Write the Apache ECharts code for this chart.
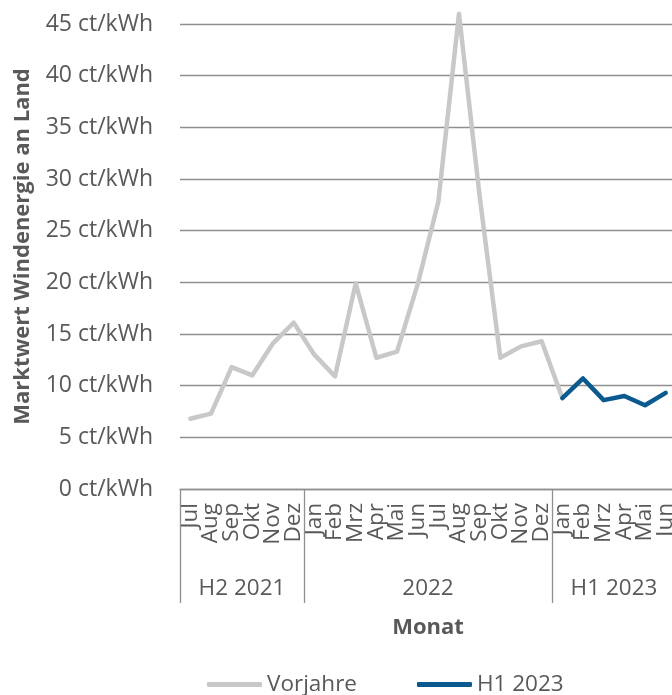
<!DOCTYPE html>
<html>
<head>
    <meta http-equiv="Content-Type" content="text/html; charset=utf-8" />
    <title>Marktwert Windenergie an Land</title>
    <script src="https://cdn.jsdelivr.net/npm/echarts@6/dist/echarts.min.js"></script>
    <style>
        html, body { margin: 0; padding: 0; background: #fff; }
    </style>
</head>
<body>
    <div id="main" style="width: 672px;height:695px;"></div>
    <script type="text/javascript">

    // Monate (Jul 2021 .. Jun 2023)
    var months = ['Jul', 'Aug', 'Sep', 'Okt', 'Nov', 'Dez',
        'Jan', 'Feb', 'Mrz', 'Apr', 'Mai', 'Jun', 'Jul', 'Aug', 'Sep', 'Okt', 'Nov', 'Dez',
        'Jan', 'Feb', 'Mrz', 'Apr', 'Mai', 'Jun'];
    // Gruppen: Name + Anzahl Monate
    var groupNames = ['H2 2021', '2022', 'H1 2023'];
    var groupSizes = [6, 12, 6];

    // ct/kWh
    var vorjahre = [6.8, 7.3, 11.8, 11.0, 14.1, 16.1,
        13.0, 10.9, 19.9, 12.7, 13.3, 19.8, 27.8, 46.0, 28.3, 12.7, 13.8, 14.3,
        8.8, null, null, null, null, null];
    var h1_2023 = [null, null, null, null, null, null,
        null, null, null, null, null, null, null, null, null, null, null, null,
        8.8, 10.7, 8.6, 9.0, 8.1, 9.3];

    var yTicks = { min: 0, max: 45, step: 5 };

    var textColor = '#595959';
    var lineGrey = '#8f8f8f';
    var font = 'Open Sans';

    // Grenzen der Gruppen (Index der ersten Kategorie jeder Gruppe)
    var bounds = [0];
    var mids = [];
    var acc = 0;
    groupSizes.forEach(function (n) {
        mids.push(acc + n / 2);
        acc += n;
        bounds.push(acc);
    });

    var myChart = echarts.init(document.getElementById('main'));

    var option = {
        animation: false,
        textStyle: { fontFamily: font },
        grid: { left: 180, right: -4, top: 24, bottom: 206, containLabel: false, outerBoundsMode: 'none' },
        legend: {
            left: 202,
            top: 668,
            icon: 'roundRect',
            itemWidth: 55,
            itemHeight: 5,
            itemGap: 60,
            textStyle: { color: textColor, fontSize: 22.5, fontFamily: font },
            data: ['Vorjahre', 'H1 2023']
        },
        xAxis: [
            {
                type: 'category',
                data: months,
                boundaryGap: true,
                name: 'Monat',
                nameLocation: 'middle',
                nameGap: 128,
                nameTextStyle: { color: textColor, fontSize: 22, fontWeight: 'bold', fontFamily: font },
                axisLine: { lineStyle: { color: lineGrey, width: 1.3 } },
                axisTick: {
                    show: true,
                    length: 114,
                    interval: function (index) {
                        return bounds.indexOf(index) >= 0;
                    },
                    lineStyle: { color: lineGrey, width: 1.3 }
                },
                axisLabel: {
                    interval: 0,
                    rotate: 90,
                    margin: 14,
                    color: textColor,
                    fontSize: 22.5,
                    fontFamily: font
                }
            },
            {
                type: 'value',
                min: 0,
                max: bounds[bounds.length - 1],
                interval: 3,
                position: 'bottom',
                axisLine: { show: false },
                axisTick: { show: false },
                splitLine: { show: false },
                axisLabel: {
                    margin: 88,
                    color: textColor,
                    fontSize: 22.5,
                    fontFamily: font,
                    showMinLabel: true,
                    showMaxLabel: true,
                    formatter: function (v) {
                        var i = mids.indexOf(v);
                        return i >= 0 ? groupNames[i] : '';
                    }
                }
            }
        ],
        yAxis: {
            type: 'value',
            min: yTicks.min,
            max: yTicks.max,
            interval: yTicks.step,
            name: 'Marktwert Windenergie an Land',
            nameLocation: 'middle',
            nameGap: 146,
            nameTextStyle: { color: textColor, fontSize: 22, fontWeight: 'bold', fontFamily: font, padding: [0, 0, 0, 20] },
            axisLine: { show: false },
            axisTick: { show: false },
            splitLine: { lineStyle: { color: lineGrey, width: 1.3 } },
            axisLabel: {
                margin: 27,
                color: textColor,
                fontSize: 23,
                fontFamily: font,
                formatter: '{value} ct/kWh'
            }
        },
        series: [
            {
                name: 'Vorjahre',
                type: 'line',
                data: vorjahre,
                symbol: 'none',
                clip: false,
                lineStyle: { color: '#c8c8c8', width: 4.5, cap: 'round', join: 'round' },
                itemStyle: { color: '#c8c8c8' }
            },
            {
                name: 'H1 2023',
                type: 'line',
                data: h1_2023,
                symbol: 'none',
                clip: false,
                lineStyle: { color: '#0b5a8f', width: 4.5, cap: 'round', join: 'round' },
                itemStyle: { color: '#0b5a8f' }
            }
        ]
    };

    myChart.setOption(option);
    </script>
</body>
</html>
